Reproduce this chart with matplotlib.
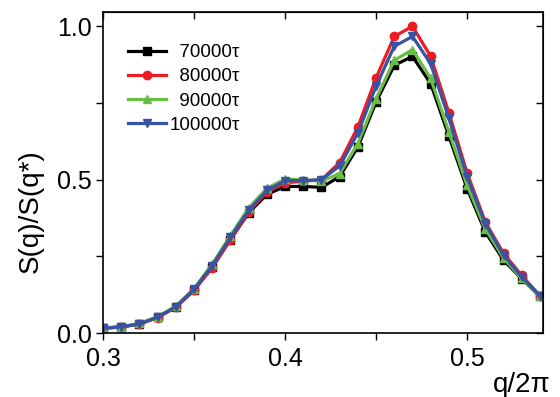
import matplotlib
matplotlib.use("Agg")
import matplotlib.pyplot as plt
from matplotlib.ticker import MultipleLocator, NullFormatter

plt.rcParams['font.family'] = ['Liberation Sans', 'DejaVu Sans']

q = [0.30, 0.31, 0.32, 0.33, 0.34, 0.35, 0.36, 0.37, 0.38, 0.39, 0.40, 0.41, 0.42,
     0.43, 0.44, 0.45, 0.46, 0.47, 0.48, 0.49, 0.50, 0.51, 0.52, 0.53, 0.54]

s_70000 = [0.016, 0.020, 0.030, 0.052, 0.085, 0.140, 0.215, 0.305, 0.392, 0.452, 0.478, 0.478, 0.475,
           0.510, 0.607, 0.753, 0.873, 0.902, 0.813, 0.642, 0.471, 0.330, 0.238, 0.177, 0.120]
s_80000 = [0.017, 0.020, 0.030, 0.050, 0.084, 0.140, 0.213, 0.305, 0.395, 0.460, 0.490, 0.495, 0.500,
           0.556, 0.672, 0.832, 0.967, 1.000, 0.902, 0.718, 0.522, 0.362, 0.260, 0.188, 0.122]
s_90000 = [0.015, 0.020, 0.032, 0.053, 0.088, 0.145, 0.225, 0.318, 0.408, 0.472, 0.502, 0.500, 0.495,
           0.520, 0.618, 0.764, 0.889, 0.924, 0.830, 0.656, 0.482, 0.340, 0.245, 0.178, 0.120]
s_100000 = [0.016, 0.020, 0.030, 0.052, 0.086, 0.143, 0.220, 0.312, 0.400, 0.465, 0.497, 0.497, 0.500,
            0.545, 0.652, 0.805, 0.935, 0.967, 0.878, 0.700, 0.509, 0.357, 0.254, 0.183, 0.122]

labels = ["\u200770000\u03c4", "\u200780000\u03c4", "\u200790000\u03c4", "100000\u03c4"]
colors = ["#000000", "#ec1c24", "#6abd45", "#3953a4"]
markers = ["s", "o", "^", "v"]

fig = plt.figure(figsize=(5.6, 3.97), dpi=100)
ax = fig.add_axes([0.184, 0.161, 0.785, 0.809])

for ys, lab, c, m in zip([s_70000, s_80000, s_90000, s_100000], labels, colors, markers):
    ax.plot(q, ys, color=c, marker=m, markersize=6, lw=2.3, label=lab)

ax.set_xlim(0.3, 0.5415)
ax.set_ylim(0, 1.047)

ax.xaxis.set_major_locator(MultipleLocator(0.1))
ax.xaxis.set_minor_locator(MultipleLocator(0.05))
ax.yaxis.set_major_locator(MultipleLocator(0.5))
ax.yaxis.set_minor_locator(MultipleLocator(0.25))
ax.tick_params(which='both', direction='out', length=5, width=1, labelsize=18)
ax.tick_params(axis='x', pad=5)
ax.tick_params(axis='y', pad=3)

# top / right ticks point inward
top = ax.secondary_xaxis('top')
top.xaxis.set_major_locator(MultipleLocator(0.05))
top.xaxis.set_major_formatter(NullFormatter())
top.tick_params(direction='in', length=5, width=1)
right = ax.secondary_yaxis('right')
right.yaxis.set_major_locator(MultipleLocator(0.25))
right.yaxis.set_major_formatter(NullFormatter())
right.tick_params(direction='in', length=5, width=1)

for sp in ax.spines.values():
    sp.set_linewidth(1.2)

ax.set_ylabel("S(q)/S(q*)", fontsize=20)
ax.yaxis.set_label_coords(-0.135, 0.38)
ax.set_xlabel("q/2\u03c0", fontsize=20)
ax.xaxis.set_label_coords(0.952, -0.12)

ax.legend(loc='upper left', bbox_to_anchor=(0.057, 0.9), frameon=False, fontsize=13.5,
          handlelength=2.0, handletextpad=0.2, labelspacing=0.38, borderpad=0, borderaxespad=0)

fig.savefig("out.png", dpi=100)
